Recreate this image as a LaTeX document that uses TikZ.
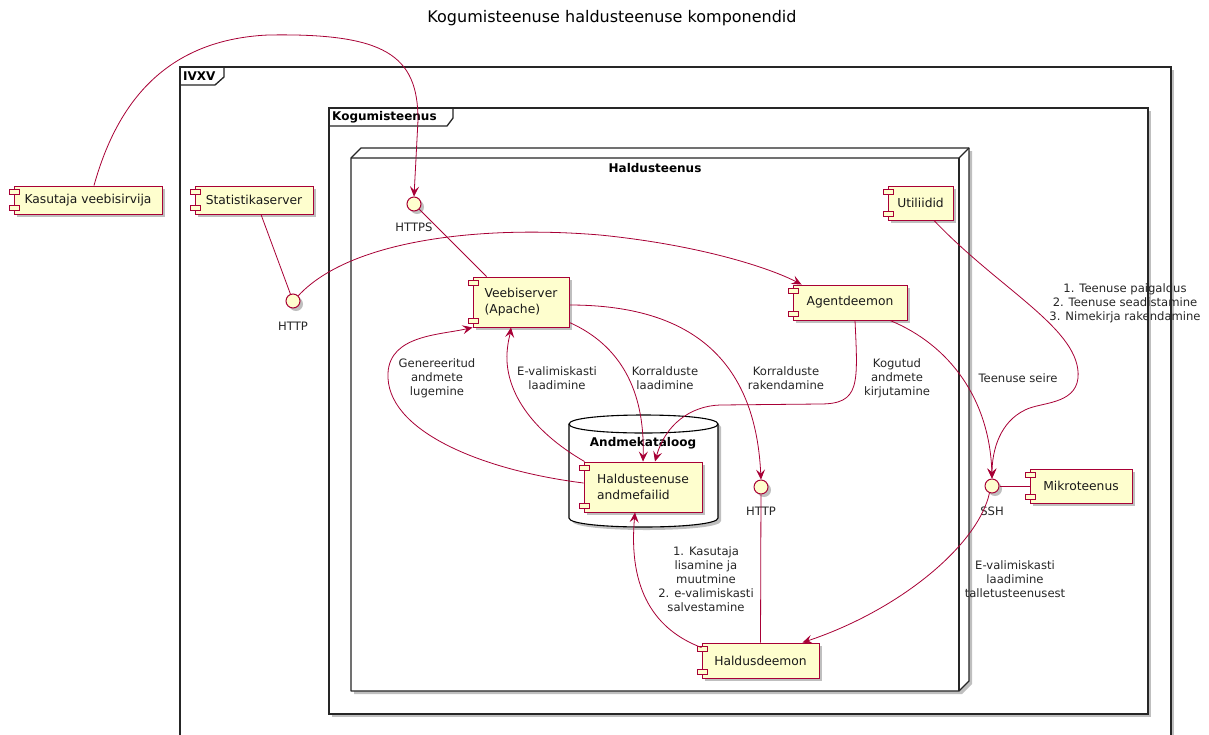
\documentclass[tikz,border=0pt]{standalone}
\usepackage{fontspec}
\setmainfont{DejaVu Sans}
\usetikzlibrary{arrows.meta,shadows}
\definecolor{bord}{HTML}{A80036}
\definecolor{compfill}{HTML}{FEFECE}
\newcommand\mycompfont{\fontsize{12.3}{16}\selectfont}
\newcommand\mylblfont{\fontsize{11.6}{14}\selectfont}
\newcommand\myboldfont{\fontsize{12}{14}\selectfont\bfseries}
\tikzset{
  shad/.style={drop shadow={shadow xshift=3pt,shadow yshift=-3pt,opacity=0.25,fill=black}},
  comp/.style={draw=bord,fill=compfill,line width=0.95pt,inner sep=0pt,font=\mycompfont,text=black!90,shad},
  port/.style={draw=bord,fill=compfill,line width=0.8pt},
  iface/.style={circle,draw=bord,fill=compfill,line width=1pt,minimum size=14pt,inner sep=0pt,shad},
  lbl/.style={font=\mylblfont,align=center,text=black!85,inner sep=0pt},
  conn/.style={draw=bord,line width=0.8pt},
  arr/.style={conn,-{Stealth[length=10pt,width=9pt,inset=4pt]}},
  frameline/.style={draw=black!85,line width=1.3pt},
}
\begin{document}
\begin{tikzpicture}[x=1pt,y=-1pt]
\useasboundingbox (0,0) rectangle (1209,734);
\fill[white] (0,0) rectangle (1209,734);

\node[font=\fontsize{16}{18}\selectfont] (title) at (612,18) {Kogumisteenuse haldusteenuse komponendid};

% IVXV frame
\draw[frameline,fill=white,shad] (180,67) rectangle (1171,770);
\draw[frameline] (180,85) -- (215,85) -- (224,77) -- (224,67);
\node[font=\myboldfont,anchor=west,inner sep=0pt] (ivxv) at (183,76) {IVXV};

% Kogumisteenus frame
\draw[frameline,fill=white,shad] (329,108) rectangle (1148,714);
\draw[frameline] (329,126) -- (447,126) -- (453,118) -- (453,108);
\node[font=\myboldfont,anchor=west,inner sep=0pt] (kog) at (332,117) {Kogumisteenus};

% Haldusteenus node (3D)
\draw[frameline,fill=white,shad,line join=round] (351,158) -- (361,148) -- (969,148) -- (969,681) -- (959,691) -- (351,691) -- cycle;
\draw[frameline,line join=round] (351,158) -- (959,158) -- (969,148);
\draw[frameline] (959,158) -- (959,691);
\node[font=\myboldfont,inner sep=0pt] (hald) at (655,168) {Haldusteenus};

% Andmekataloog database
\draw[draw=black,line width=1.1pt,fill=white,shad] (569,424) .. controls (569,412) and (718,412) .. (718,424) -- (718,518) .. controls (718,530) and (569,530) .. (569,518) -- cycle;
\draw[draw=black,line width=1.1pt] (569,424) .. controls (569,436) and (718,436) .. (718,424);
\node[font=\myboldfont,inner sep=0pt] (andk) at (643,443) {Andmekataloog};

% components
\node[comp,minimum width=148pt,minimum height=28pt] (kas) at (88,200) {Kasutaja veebisirvija};
\node[comp,minimum width=118pt,minimum height=28pt] (stat) at (254,200) {Statistikaserver};
\node[comp,minimum width=96pt,minimum height=50pt,align=left] (veb) at (521,302) {Veebiserver\\(Apache)};
\node[comp,minimum width=114pt,minimum height=35pt] (agent) at (850,302.5) {Agentdeemon};
\node[comp,minimum width=65pt,minimum height=34pt] (util) at (920.5,203) {Utiliidid};
\node[comp,minimum width=118pt,minimum height=50pt,align=left] (dat) at (643,487) {Haldusteenuse\\andmefailid};
\node[comp,minimum width=117pt,minimum height=35pt] (hd) at (760.5,660.5) {Haldusdeemon};
\node[comp,minimum width=102pt,minimum height=34pt] (mik) at (1081,486) {Mikroteenus};
\foreach \n in {kas,stat,veb,agent,util,dat,hd,mik}{
  \draw[port] ([xshift=-4pt,yshift=-4pt]\n.north west) rectangle ++(10pt,-5pt);
  \draw[port] ([xshift=-4pt,yshift=4pt]\n.south west) rectangle ++(10pt,5pt);
}

% interfaces
\node[iface] (https) at (414,204) {};
\node[lbl] (httpslbl) at (414,227) {HTTPS};
\node[iface] (httpS) at (293,301) {};
\node[lbl] (httpSlbl) at (293,326) {HTTP};
\node[iface] (httpI) at (761,487) {};
\node[lbl] (httpIlbl) at (761,511) {HTTP};
\node[iface] (ssh) at (992,486) {};
\node[lbl] (sshlbl) at (992,511) {SSH};

% connectors
\draw[arr] ([xshift=6pt]kas.north) .. controls (115,110) and (160,40) .. (268,35)
  .. controls (385,33) and (418,55) .. (418,120) -- (https.north);
\draw[conn] ([xshift=7pt]stat.south) -- (httpS);
\draw[arr] (httpS.45) .. controls (350,240) and (480,225) .. (600,235)
  .. controls (700,245) and (770,268) .. ([xshift=9pt]agent.north west);
\draw[conn] (https) -- ([xshift=14pt]veb.north west);
\draw[arr] ([yshift=4pt]dat.west) .. controls (480,470) and (385,430) .. (388,373)
  .. controls (390,335) and (440,335) .. (veb.south west);
\draw[arr] ([xshift=1pt]dat.north west) .. controls (530,430) and (505,390) .. (507,353)
  .. controls (508,340) and (510,335) .. ([xshift=-10pt]veb.south);
\draw[arr] ([yshift=5pt]veb.south east) .. controls (620,345) and (645,390) .. (dat.north);
\draw[arr] ([yshift=-3pt]veb.east) .. controls (680,305) and (755,350) .. (httpI.north);
\draw[arr] ([xshift=5pt]agent.south) .. controls (858,385) and (860,404) .. (820,404)
  -- (720,405) .. controls (690,406) and (665,425) .. ([xshift=12pt]dat.north);
\draw[arr] ([xshift=40pt]agent.south) .. controls (950,345) and (990,400) .. (ssh.north);
\draw[arr] ([xshift=13.5pt]util.south) .. controls (1000,290) and (1082,330) .. (1078,378)
  .. controls (1075,405) and (1040,402) .. (1025,410)
  .. controls (1000,422) and (992,450) .. (ssh.north);
\draw[conn] (ssh.east) -- (mik.west);
\draw[arr] (ssh.250) .. controls (978,545) and (900,610) .. ([xshift=-17pt]hd.north east);
\draw[conn] (httpI) -- (hd.north);
\draw[arr] ([yshift=-5pt]hd.north west) .. controls (655,630) and (628,590) .. ([xshift=-8pt]dat.south);

% edge labels
\node[lbl] (l1) at (437,378) {Genereeritud\\andmete\\lugemine};
\node[lbl] (l2) at (557,378) {E-valimiskasti\\laadimine};
\node[lbl] (l3) at (665,378) {Korralduste\\laadimine};
\node[lbl] (l4) at (786,378) {Korralduste\\rakendamine};
\node[lbl] (l5) at (897,378) {Kogutud\\andmete\\kirjutamine};
\node[lbl] (l6) at (1018,378) {Teenuse seire};
\node[lbl] (l7) at (1125,303) {1. Teenuse paigaldus\\2. Teenuse seadistamine\\3. Nimekirja rakendamine};
\node[lbl] (l8) at (1015,579) {E-valimiskasti\\laadimine\\talletusteenusest};
\node[lbl] (l9) at (706,579) {1. Kasutaja\\lisamine ja\\muutmine\\2. e-valimiskasti\\salvestamine};
\end{tikzpicture}
\end{document}
